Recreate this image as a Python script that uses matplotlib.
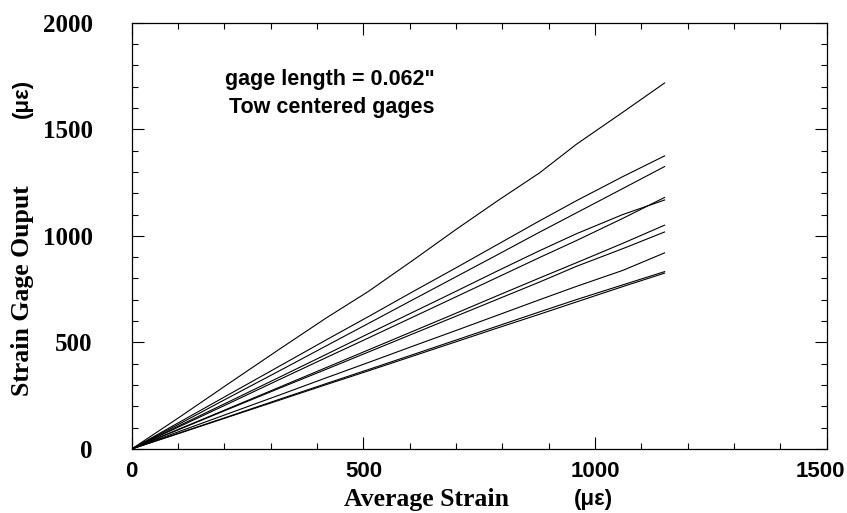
import matplotlib
matplotlib.use("Agg")
import matplotlib.pyplot as plt
import matplotlib.transforms as mtransforms
from matplotlib.ticker import MultipleLocator

# average strain (x) at each reading
avg_strain = [0, 105, 210, 320, 420, 510, 610, 700, 790, 880, 960, 1060, 1150]

# strain gage output for the ten tow centered gages
gage_1 = [0, 152, 308, 470, 615, 738, 890, 1030, 1165, 1295, 1430, 1580, 1717]
gage_2 = [0, 128, 256, 390, 512, 620, 742, 850, 960, 1070, 1165, 1278, 1375]
gage_3 = [0, 120, 242, 368, 484, 588, 704, 808, 912, 1017, 1108, 1222, 1325]
gage_4 = [0, 112, 222, 338, 444, 540, 645, 740, 836, 930, 1010, 1100, 1168]
gage_5 = [0, 107, 214, 327, 429, 520, 622, 714, 806, 898, 978, 1082, 1180]
gage_6 = [0, 96, 191, 291, 382, 464, 555, 637, 720, 802, 874, 965, 1050]
gage_7 = [0, 94, 188, 286, 374, 454, 543, 623, 703, 783, 857, 940, 1018]
gage_8 = [0, 84, 167, 254, 334, 405, 485, 556, 628, 700, 763, 838, 920]
gage_9 = [0, 77, 153, 234, 307, 372, 445, 511, 577, 643, 701, 770, 832]
gage_10 = [0, 75, 151, 230, 302, 366, 438, 503, 568, 632, 690, 762, 825]

gages = [gage_1, gage_2, gage_3, gage_4, gage_5,
         gage_6, gage_7, gage_8, gage_9, gage_10]

serif = "Liberation Serif"
sans = "Liberation Sans"

fig = plt.figure(figsize=(8.47, 5.13), dpi=100)
ax = fig.add_axes([0.1555, 0.1248, 0.8206, 0.831])

for g in gages:
    ax.plot(avg_strain, g, color="black", linewidth=0.8)

ax.set_xlim(0, 1500)
ax.set_ylim(0, 2000)
ax.xaxis.set_major_locator(MultipleLocator(500))
ax.xaxis.set_minor_locator(MultipleLocator(100))
ax.yaxis.set_major_locator(MultipleLocator(500))
ax.yaxis.set_minor_locator(MultipleLocator(100))

ax.tick_params(which="both", direction="in", top=True, right=True, width=0.8)
ax.tick_params(which="major", length=8.5)
ax.tick_params(which="minor", length=4.3)
ax.tick_params(axis="x", pad=9)
ax.tick_params(axis="y", pad=28)
for sp in ax.spines.values():
    sp.set_linewidth(0.9)

for lbl in ax.get_xticklabels():
    lbl.set_fontfamily(sans)
    lbl.set_fontweight("bold")
    lbl.set_fontsize(16)
for lbl in ax.get_yticklabels():
    lbl.set_fontfamily(serif)
    lbl.set_fontweight("bold")
    lbl.set_fontsize(18)

# axis titles
fig.text(0.026, 0.433, "Strain Gage Ouput", rotation=90, ha="center", va="center",
         fontfamily=serif, fontweight="bold", fontsize=18.5)
fig.text(0.027, 0.809, "(με)", rotation=90, ha="center", va="center",
         fontfamily=sans, fontweight="bold", fontsize=16)
fig.text(0.503, 0.026, "Average Strain", ha="center", va="center",
         fontfamily=serif, fontweight="bold", fontsize=18.5)
fig.text(0.701, 0.026, "(με)", ha="center", va="center",
         fontfamily=sans, fontweight="bold", fontsize=16)

# annotation
ax.text(0.285, 0.866, 'gage length = 0.062"', transform=ax.transAxes,
        ha="center", va="center", fontfamily=sans, fontweight="bold", fontsize=15.5)
ax.text(0.288, 0.802, "Tow centered gages", transform=ax.transAxes,
        ha="center", va="center", fontfamily=sans, fontweight="bold", fontsize=15.5)

# keep the last x label inside the figure (ticks exist after a first draw)
fig.canvas.draw()
last = ax.xaxis.get_major_ticks()[-1].label1
for t in ax.xaxis.get_major_ticks():
    if t.get_loc() == 1500:
        last = t.label1
last.set_transform(last.get_transform() +
                   mtransforms.ScaledTranslation(-6 / 100, 0, fig.dpi_scale_trans))

fig.savefig("out.png", dpi=100)
